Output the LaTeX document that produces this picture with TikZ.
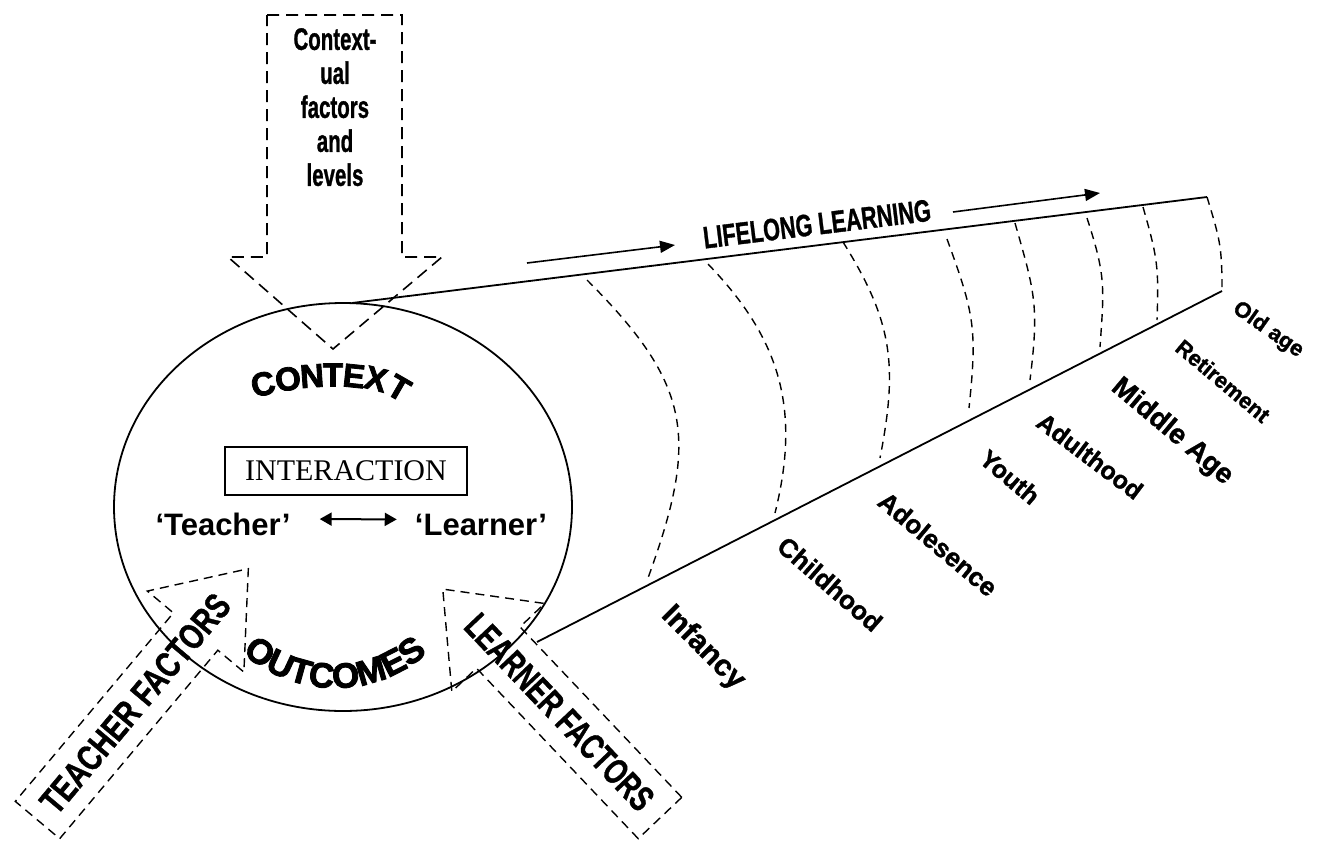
\documentclass[tikz,border=0pt]{standalone}
\usepackage{fontspec}
\setmainfont{Liberation Sans}
\newfontfamily\seriffont{Liberation Serif}
\newfontfamily\heavyfont{Liberation Sans Bold}[FakeBold=2.5]
\newfontfamily\semiheavyfont{Liberation Sans Bold}[FakeBold=1.2]
\usetikzlibrary{arrows.meta,decorations.text}
\begin{document}
\begin{tikzpicture}[x=1pt,y=1pt,
  solidline/.style={line width=1.8pt},
  topdash/.style={line width=1.6pt, dash pattern=on 12pt off 7pt},
  sidedash/.style={line width=1.4pt, dash pattern=on 9pt off 6pt},
  stageline/.style={line width=1.4pt, dash pattern=on 8pt off 6pt},
  stagelabel/.style={inner sep=0pt, font=\semiheavyfont\fontsize{#1}{#1}\selectfont},
  flowarrow/.style={line width=1.6pt, -{Triangle[length=15pt,width=12pt]}},
  heavyletter/.style={inner sep=0pt, font=\heavyfont\fontsize{33}{33}\selectfont},
  plainbold/.style={inner sep=0pt, font=\bfseries\fontsize{31}{31}\selectfont},
  factorlabel/.style={inner sep=0pt, font=\semiheavyfont\fontsize{36}{36}\selectfont},
]
\useasboundingbox (0,0) rectangle (1323,-841);

% ---- top block arrow: contextual factors
\draw[topdash] (267,-15) -- (402,-15) -- (402,-257) -- (442,-257) -- (333,-349)
  -- (228,-257) -- (267,-257) -- cycle;
\node (ctxf) [inner sep=0pt, anchor=north, align=center,
  font=\semiheavyfont\fontsize{31}{34}\selectfont] at (335,-28)
  {\scalebox{0.66}[1]{Context-}\\\scalebox{0.66}[1]{ual}\\\scalebox{0.66}[1]{factors}\\\scalebox{0.66}[1]{and}\\\scalebox{0.66}[1]{levels}};

% ---- circle
\draw[solidline] (343,-507) ellipse [x radius=229, y radius=204];

% ---- tunnel
\coordinate (ut0) at (352,-303);
\coordinate (ut1) at (1207,-197);
\coordinate (lt0) at (537,-642);
\coordinate (lt1) at (1222,-291);
\draw[solidline] (ut0) -- (ut1);
\draw[solidline] (lt0) -- (lt1);

\draw[stageline] (587,-280) to[out=-45,in=70,looseness=1.25] (648,-578);
\draw[stageline] (708,-264) to[out=-46,in=76,looseness=1.05] (775,-513);
\draw[stageline] (843,-242) to[out=-58,in=79,looseness=1.1] (880,-458);
\draw[stageline] (947,-239) to[out=-70,in=84,looseness=1.2] (969,-408);
\draw[stageline] (1015,-223) to[out=-74,in=83,looseness=1.2] (1030,-380);
\draw[stageline] (1087,-218) to[out=-72,in=86,looseness=1.2] (1100,-347);
\draw[stageline] (1143,-207) to[out=-74,in=88,looseness=1.2] (1157,-320);
\draw[stageline] (ut1) to[out=-73,in=90,looseness=1.2] (lt1);

% ---- lifelong learning
\node (lll) [inner sep=0pt, rotate=7, font=\semiheavyfont\fontsize{31}{31}\selectfont]
  at (817,-224) {\scalebox{0.7}[1]{LIFELONG LEARNING}};
\coordinate (fa0) at (527,-263);
\coordinate (fa1) at (675,-245);
\coordinate (fb0) at (953,-212);
\coordinate (fb1) at (1100,-193);
\draw[flowarrow] (fa0) -- (fa1);
\draw[flowarrow] (fb0) -- (fb1);

% ---- inside the circle
\node (inter) [draw, line width=1.3pt, inner sep=0pt, minimum width=242pt,
  minimum height=48pt, font=\seriffont\fontsize{30}{30}\selectfont]
  at (346,-471) {INTERACTION};
\node (teacher) [plainbold, anchor=base] at (223,-535) {‘Teacher’};
\node (learner) [plainbold, anchor=base] at (481,-535) {‘Learner’};
\draw[line width=2pt, {Triangle[length=12pt,width=13pt]}-{Triangle[length=12pt,width=13pt]},
  shorten <=29pt, shorten >=18pt]
  ([yshift=5pt]teacher.east) -- ([yshift=5pt]learner.west);

\foreach \ch/\cx/\cy/\cr [count=\i] in
  {C/263/384/14, O/288/379/9, N/312/376/4, T/333/375/0, E/354/376/-6, X/376/379/-14, T/399/388/-30}
  \node (ctx\i) [heavyletter, rotate=\cr] at (\cx,-\cy) {\ch};

\path[decorate, decoration={text along path, text align=center,
  text={|\heavyfont\fontsize{35}{35}\selectfont|OUTCOMES}}]
  (335,-548) ++(223:140) arc[start angle=223, end angle=317, radius=140];

% ---- teacher factors arrow
\begin{scope}[shift={(37.5,-820)}, rotate=50]
\draw[sidedash] (0,-29) -- (246,-29) -- (246,-63) -- (328,0) -- (246,63) -- (246,29) -- (0,29) -- cycle;
\node (tf) [factorlabel, rotate=50] at (152,0) {\scalebox{0.77}[1]{TEACHER FACTORS}};
\end{scope}

% ---- learner factors arrow
\begin{scope}[shift={(660,-818)}, rotate=133.5]
\draw[sidedash] (0,-30) -- (235,-30) -- (235,-64) -- (315.6,0) -- (235,64) -- (235,30) -- (0,30) -- cycle;
\node (lf) [factorlabel, rotate=-46.5] at (146,0) {\scalebox{0.72}[1]{LEARNER FACTORS}};
\end{scope}

% ---- stages
\node (infancy) [stagelabel=30, rotate=-45] at (703,-648) {Infancy};
\node (childhood) [stagelabel=26, rotate=-41] at (830,-584) {Childhood};
\node (adolesence) [stagelabel=26, rotate=-40] at (938,-544) {Adolesence};
\node (youth) [stagelabel=25, rotate=-40] at (1010,-477) {Youth};
\node (adulthood) [stagelabel=25, rotate=-37] at (1090,-456) {Adulthood};
\node (middleage) [stagelabel=28, rotate=-40] at (1172,-432) {Middle Age};
\node (retirement) [stagelabel=22, rotate=-40] at (1223,-381) {Retirement};
\node (oldage) [stagelabel=22, rotate=-35] at (1268,-330) {Old age};
\end{tikzpicture}
\end{document}
